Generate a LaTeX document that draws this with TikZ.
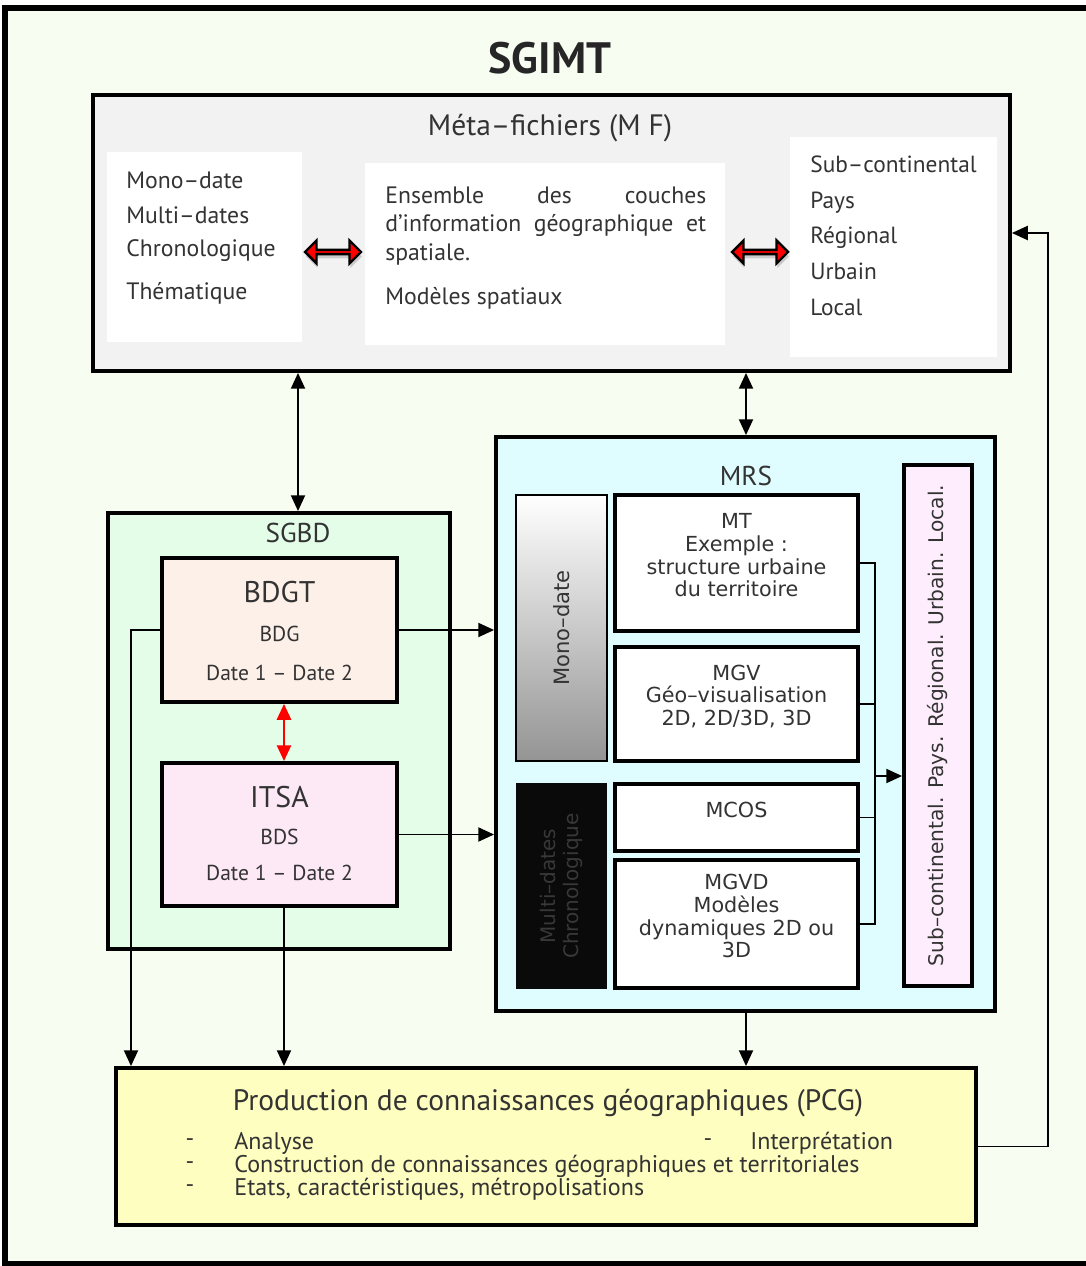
\documentclass[tikz,border=0pt]{standalone}
\usepackage{fontspec}
\setmainfont{PT Sans}
\newfontfamily\verd{DejaVu Sans}
\usepackage{tikz}
\usetikzlibrary{positioning,fit,arrows.meta,shapes.arrows,shadows}

\definecolor{bgframe}{HTML}{F7FDF1}
\definecolor{mfgray}{HTML}{F2F2F2}
\definecolor{sgbdgreen}{HTML}{E3FDE8}
\definecolor{bdgtpeach}{HTML}{FDF0E8}
\definecolor{itsapink}{HTML}{FDE8F6}
\definecolor{mrscyan}{HTML}{DFFDFE}
\definecolor{echpink}{HTML}{FEEEFD}
\definecolor{pcgyellow}{HTML}{FEFEC0}
\definecolor{txtgray}{HTML}{333333}

\tikzset{
  frame/.style={draw=black, line width=2.2pt, inner sep=0pt},
  panel/.style={fill=white, draw=none, inner sep=0pt},
  lbl/.style={text=txtgray, inner sep=0pt},
  ptxt/.style={lbl, anchor=west, font=\fontsize{13.5}{16}\selectfont},
  btxt/.style={lbl, anchor=west, font=\fontsize{13.7}{15}\selectfont},
  link/.style={draw=black, line width=1.1pt, -{Triangle[length=9pt,width=8pt]}},
  bilink/.style={draw=black, line width=1.1pt, {Triangle[length=9pt,width=8pt]}-{Triangle[length=9pt,width=8pt]}},
  redlink/.style={draw=red, line width=1.4pt, {Triangle[length=9pt,width=8pt]}-{Triangle[length=9pt,width=8pt]}},
  blockarrow/.style={double arrow, fill=red, draw=black, line width=1.4pt, inner sep=0pt,
    minimum width=0.46cm, minimum height=1.12cm, double arrow head extend=0.11cm,
    drop shadow={opacity=0.35, shadow xshift=0.5pt, shadow yshift=-2.5pt}},
  model/.style={frame, fill=white, align=center, text=txtgray,
    font=\verd\fontsize{11.8}{12.9}\selectfont}
}

\begin{document}
\begin{tikzpicture}[x=0.02cm, y=-0.02cm]
  \useasboundingbox (0,0) rectangle (1085,1266);
  % cadre general
  \filldraw[fill=bgframe, draw=black, line width=3.6pt] (5,8) rectangle (1100,1264);
  \node[font=\bfseries\fontsize{25}{30}\selectfont, text=black!85] (titre) at (550,58) {SGIMT};

  % meta-fichiers
  \node[frame, fill=mfgray, fit={(93,95) (1010,371)}] (mf) {};
  \node[lbl, font=\fontsize{16.8}{19}\selectfont] (mftit) at (550,128) {Méta–fichiers (M F)};
  \node[panel, fit={(107,152) (302,342)}] (lpanel) {};
  \node[panel, fit={(365,163) (725,345)}] (mpanel) {};
  \node[panel, fit={(790,137) (997,357)}] (rpanel) {};
  \node[ptxt] (pmono) at (126,180) {Mono–date};
  \node[ptxt] (pmulti) at (126,215) {Multi–dates};
  \node[ptxt] (pchrono) at (126,251) {Chronologique};
  \node[ptxt] (pthema) at (126,293) {Thématique};
  \node[ptxt, text width=6.42cm, align=left, font=\fontsize{13.5}{16.2}\selectfont] (pens) at (385,226)
    {\leavevmode\hbox to 6.42cm{Ensemble\hfill des\hfill couches}\\
     \leavevmode\hbox to 6.42cm{d’information\hfill géographique\hfill et}\\
     spatiale.};
  \node[ptxt] (pmod) at (385,298) {Modèles spatiaux};
  \node[ptxt, align=left, font=\fontsize{13.3}{20.3}\selectfont] (pech) at (810,235.5)
    {Sub–continental\\Pays\\Régional\\Urbain\\Local};
  \node[blockarrow] (ra1) at (333,252) {};
  \node[blockarrow] (ra2) at (760,252) {};

  % SGBD
  \node[frame, fill=sgbdgreen, fit={(108,513) (450,949)}] (sgbd) {};
  \node[lbl, font=\fontsize{15.5}{18}\selectfont] (sgbdtit) at (298,533) {SGBD};
  \node[frame, fill=bdgtpeach, fit={(162,558) (397,702)}] (bdgt) {};
  \node[lbl, align=center, yshift=-0.02cm, font=\fontsize{12.3}{22.3}\selectfont] (bdgttxt) at (bdgt.center)
    {{\fontsize{17}{18}\selectfont BDGT}\\BDG\\Date 1 – Date 2};
  \node[frame, fill=itsapink, fit={(162,763) (397,906)}] (itsa) {};
  \node[lbl, align=center, yshift=0.02cm, font=\fontsize{12.3}{20.5}\selectfont] (itsatxt) at (itsa.center)
    {{\fontsize{17}{18}\selectfont ITSA}\\BDS\\Date 1 – Date 2};

  % MRS
  \node[frame, fill=mrscyan, fit={(496,437) (995,1011)}] (mrs) {};
  \node[lbl, font=\fontsize{15.5}{18}\selectfont] (mrstit) at (746,476) {MRS};
  \node[frame, line width=1.6pt, top color=white, bottom color=black!42, fit={(516,495) (607,761)}] (mono) {};
  \node[lbl, rotate=90, font=\verd\fontsize{12}{14}\selectfont] at (mono.center) {Mono–date};
  \node[fill=black!96, inner sep=0pt, fit={(516,783) (607,989)}] (multi) {};
  \node[inner sep=0pt, rotate=90, align=center, text=black!78, font=\verd\fontsize{11.4}{13}\selectfont]
    at (multi.center) {Multi–dates\\Chronologique};
  \node[model, fit={(615,495) (858,631)}] (mt) {MT\\Exemple :\\structure urbaine\\du territoire};
  \node[model, fit={(615,647) (858,761)}] (mgv) {MGV\\Géo–visualisation\\2D, 2D/3D, 3D};
  \node[model, fit={(615,784) (858,851)}] (mcos) {MCOS};
  \node[model, fit={(615,860) (858,988)}] (mgvd) {MGVD\\Modèles\\dynamiques 2D ou\\3D};
  \node[frame, fill=echpink, fit={(904,465) (972,986)}] (echelle) {};
  \node[lbl, rotate=90, font=\verd\fontsize{11.5}{13}\selectfont] at (echelle.center)
    {Sub–continental. Pays. Régional. Urbain. Local.};

  % PCG
  \node[frame, fill=pcgyellow, fit={(116,1068) (976,1225)}] (pcg) {};
  \node[lbl, font=\fontsize{16.8}{19}\selectfont] (pcgtit) at (548,1103) {Production de connaissances géographiques (PCG)};
  \node[btxt, anchor=center] (d1) at (190,1143) {-};
  \node[btxt, anchor=center] (d2) at (190,1166) {-};
  \node[btxt, anchor=center] (d3) at (190,1189) {-};
  \node[btxt, anchor=center] (d4) at (708,1143) {-};
  \node[btxt] (b1) at (234,1143) {Analyse};
  \node[btxt] (b2) at (234,1166) {Construction de connaissances géographiques et territoriales};
  \node[btxt] (b3) at (234,1189) {Etats, caractéristiques, métropolisations};
  \node[btxt] (b4) at (750,1143) {Interprétation};

  % connexions
  \coordinate (leftrail) at (131,630);
  \coordinate (brk) at (875,776);
  \coordinate (fb) at (1048,0);
  \draw[bilink] (mf.south -| sgbdtit) -- (sgbd.north -| sgbdtit);
  \draw[bilink] (mf.south -| mrstit) -- (mrs.north -| mrstit);
  \draw[redlink] (bdgt.south -| 284,0) -- (itsa.north -| 284,0);
  \draw[link] (bdgt.east) -- (bdgt.east -| mrs.west);
  \draw[link] (itsa.east) -- (itsa.east -| mrs.west);
  \draw[link] (bdgt.west) -- (leftrail) -- (leftrail |- pcg.north);
  \draw[link] (itsa.south -| 284,0) -- (pcg.north -| 284,0);
  \draw[link] (mrs.south -| mrstit) -- (pcg.north -| mrstit);
  \draw[line width=1.1pt] (mt.east) -- (mt.east -| brk) -- (mgvd.east -| brk) -- (mgvd.east);
  \draw[line width=1.1pt] (mgv.east) -- (mgv.east -| brk);
  \draw[line width=1.1pt] (mcos.east) -- (mcos.east -| brk);
  \draw[link] (brk) -- (brk -| echelle.west);
  \draw[link] (pcg.east) -| (fb |- mf.east) -- (mf.east);
\end{tikzpicture}
\end{document}
